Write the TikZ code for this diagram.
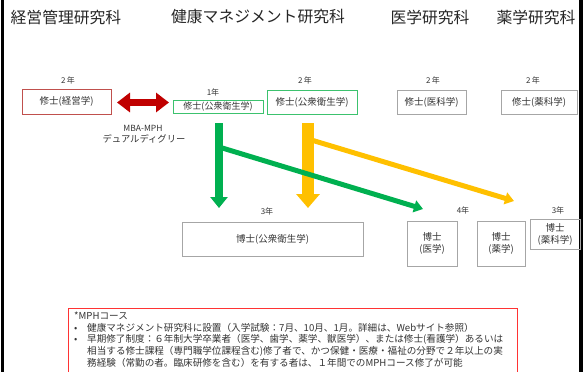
\documentclass[tikz,border=0pt]{standalone}
\usepackage{fontspec}
\setmainfont{Noto Sans CJK JP}
\usetikzlibrary{arrows.meta}
\definecolor{ttl}{HTML}{262626}
\definecolor{txt}{HTML}{333333}
\definecolor{boxred}{HTML}{C0504D}
\definecolor{boxgreen}{HTML}{3CC26E}
\definecolor{boxgray}{HTML}{A6A6A6}
\definecolor{arrgreen}{HTML}{00B050}
\definecolor{arryellow}{HTML}{FFC000}
\definecolor{arrred}{HTML}{C00000}
\definecolor{notered}{HTML}{FF3333}
\begin{document}
\begin{tikzpicture}[x=1pt,y=-1pt,
  title/.style={font=\fontsize{15.8}{18}\selectfont, text=ttl, inner sep=0pt},
  yearlbl/.style={font=\fontsize{8}{9}\selectfont, text=txt, inner sep=0pt},
  degbox/.style={draw, line width=0.8pt, font=\fontsize{9.5}{12}\selectfont, text=txt, inner sep=0pt, align=center},
  smalltxt/.style={font=\fontsize{9.3}{11}\selectfont, text=txt, inner sep=0pt}
]
\useasboundingbox (0,0) rectangle (587,372);
\clip (0,0) rectangle (587,372);
% side bars
\fill[black] (1,0) rectangle (4,372);
\fill[black] (579,0) rectangle (583,372);

% titles
\node[title] (t1) at (66,17) {経営管理研究科};
\node[title] (t2) at (258,17) {健康マネジメント研究科};
\node[title] (t3) at (430,17) {医学研究科};
\node[title] (t4) at (536,17) {薬学研究科};

% master boxes
\node[degbox, draw=boxred, minimum width=89pt, minimum height=25pt] (keiei) at (66.5,101.5) {修士(経営学)};
\node[degbox, draw=boxgreen, minimum width=90pt, minimum height=13pt, font=\fontsize{9}{11}\selectfont] (ph1) at (218,106.5) {修士(公衆衛生学)};
\node[degbox, draw=boxgreen, minimum width=90pt, minimum height=24pt] (ph2) at (312,102) {修士(公衆衛生学)};
\node[degbox, draw=boxgray, minimum width=69pt, minimum height=24pt] (ika) at (431.5,102) {修士(医科学)};
\node[degbox, draw=boxgray, minimum width=76pt, minimum height=24pt] (yakka) at (539,102) {修士(薬科学)};

% year labels
\node[yearlbl] (y1) at (68,80) {2\,年};
\node[yearlbl] (y2) at (213,92) {1年};
\node[yearlbl] (y3) at (305,80) {2\,年};
\node[yearlbl] (y4) at (433,80) {2\,年};
\node[yearlbl] (y5) at (533,80) {2\,年};
\node[yearlbl] (y6) at (267,211) {3年};
\node[yearlbl] (y7) at (463,210) {4年};
\node[yearlbl] (y8) at (558,210) {3年};

% doctoral boxes
\node[degbox, draw=boxgray, minimum width=181pt, minimum height=34pt] (dph) at (272.5,239) {博士(公衆衛生学)};
\node[degbox, draw=boxgray, minimum width=50pt, minimum height=45pt] (di) at (432,243.5) {博士\\(医学)};
\node[degbox, draw=boxgray, minimum width=48pt, minimum height=45pt] (dy) at (501,243.5) {博士\\(薬学)};
\node[degbox, draw=boxgray, minimum width=50pt, minimum height=30pt] (dyk) at (555,234) {博士\\(薬科学)};

% dual degree label
\node[smalltxt, font=\fontsize{8.5}{10}\selectfont] (mba) at (143,128) {MBA-MPH};
\node[smalltxt] (dual) at (144,139) {デュアルディグリー};

% connectors
\coordinate (dA) at (117,102.5);
\coordinate (dB) at (169,102.5);
\draw[arrred, line width=7pt, {Triangle[width=19pt,length=13pt]}-{Triangle[width=19pt,length=13pt]}] (dA) -- (dB);

\coordinate (y0) at (308,123);
\coordinate (y1e) at (308,208);
\coordinate (yd0) at (308,139);
\coordinate (yd1) at (514,201);
\draw[arryellow, line width=5pt, -{Triangle[width=12pt,length=9pt]}] (yd0) -- (yd1);
\draw[arryellow, line width=12pt, -{Triangle[width=23pt,length=14pt]}] (y0) -- (y1e);

\coordinate (g0) at (219,123);
\coordinate (g1) at (219,208);
\coordinate (gd0) at (219,147);
\coordinate (gd1) at (423,209);
\draw[arrgreen, line width=8pt, -{Triangle[width=17pt,length=11pt]}] (g0) -- (g1);
\draw[arrgreen, line width=5pt, -{Triangle[width=12pt,length=9pt]}] (gd0) -- (gd1);

% note box
\draw[notered, line width=0.8pt] (68,380) -- (68,308) -- (517,308) -- (517,380);
\node[smalltxt, anchor=north west, align=left, font=\fontsize{9.6}{11.8}\selectfont] (note) at (74,311.5)
{*MPHコース\\
\makebox[13pt][l]{•}健康マネジメント研究科に設置（入学試験：7月、10月、1月。詳細は、Webサイト参照）\\
\makebox[13pt][l]{•}早期修了制度：６年制大学卒業者（医学、歯学、薬学、獣医学）、または修士(看護学）あるいは\\
\hspace*{13pt}相当する修士課程（専門職学位課程含む)修了者で、かつ保健・医療・福祉の分野で２年以上の実\\
\hspace*{13pt}務経験（常勤の者。臨床研修を含む）を有する者は、１年間でのMPHコース修了が可能};
\end{tikzpicture}
\end{document}
